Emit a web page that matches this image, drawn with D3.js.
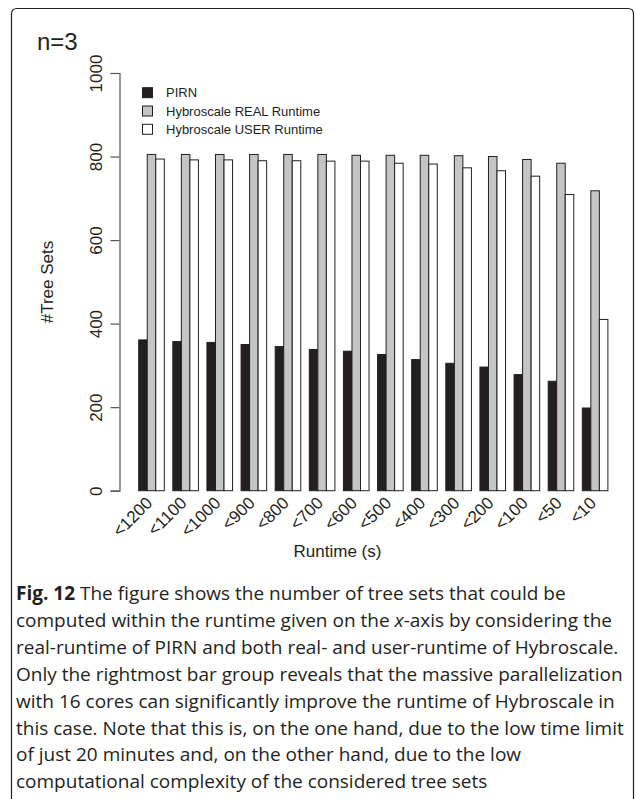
<!DOCTYPE html>
<html><head><meta charset="utf-8">
<script src="https://cdn.jsdelivr.net/npm/d3@7"></script>
<style>
html,body{margin:0;padding:0;background:#fff;}
svg{display:block;}
</style>
</head><body>
<svg id="c" width="635" height="799"></svg>
<script>
const categories = ["<1200","<1100","<1000","<900","<800","<700","<600","<500","<400","<300","<200","<100","<50","<10"];
const seriesNames = ["PIRN","Hybroscale REAL Runtime","Hybroscale USER Runtime"];
const pirn = [361,357,355,350,345,338,334,326,314,305,296,278,262,198];
const realRuntime = [805,805,805,805,805,805,803,803,803,802,800,793,784,718];
const userRuntime = [794,792,792,790,790,789,789,784,782,773,766,753,709,410];
const yTicks = [0,200,400,600,800,1000];
const captionLines = [
  "The figure shows the number of tree sets that could be",
  "computed within the runtime given on the x-axis by considering the",
  "real-runtime of PIRN and both real- and user-runtime of Hybroscale.",
  "Only the rightmost bar group reveals that the massive parallelization",
  "with 16 cores can significantly improve the runtime of Hybroscale in",
  "this case. Note that this is, on the one hand, due to the low time limit",
  "of just 20 minutes and, on the other hand, due to the low",
  "computational complexity of the considered tree sets"
];

const series = [pirn, realRuntime, userRuntime];
const colors = ["#231f20","#c4c5c7","#ffffff"];
const svg = d3.select("#c");
const font = "'Liberation Sans', Arial, Helvetica, sans-serif";

// frame
svg.append("path")
  .attr("d","M11.5,805 L11.5,14 Q11.5,8.5 17,8.5 L628,8.5 Q633.5,8.5 633.5,14 L633.5,805")
  .attr("fill","none").attr("stroke","#231f20").attr("stroke-width",1.2);

const y = d3.scaleLinear().domain([0,1000]).range([490.7,73]);
const x0 = d3.scaleBand().domain(categories).range([138.7,607.9]).paddingInner(0.25).paddingOuter(0);
const x1 = d3.scaleBand().domain(d3.range(3)).range([0,x0.bandwidth()]);

// bars
const g = svg.append("g");
categories.forEach((c,i)=>{
  series.forEach((s,j)=>{
    g.append("rect")
      .attr("x",x0(c)+x1(j)).attr("width",x1.bandwidth())
      .attr("y",y(s[i])).attr("height",y(0)-y(s[i]))
      .attr("fill",colors[j]).attr("stroke", "#231f20").attr("stroke-width",1);
  });
});

// y axis
const yAxis = d3.axisLeft(y).tickValues(yTicks).tickSize(9).tickPadding(0).tickFormat(d3.format("d"));
const ya = svg.append("g").attr("transform","translate(119.5,0)").call(yAxis);
ya.select(".domain").attr("stroke","#555").attr("stroke-width",1.2);
ya.selectAll(".tick line").attr("stroke","#555").attr("stroke-width",1.2);
ya.selectAll(".tick text").remove();
ya.selectAll(".tick").append("text")
  .attr("transform","translate(-23,0) rotate(-90)")
  .attr("text-anchor","middle").attr("dy","0.35em")
  .attr("fill","#231f20").style("font-family",font).style("font-size","17px")
  .text(d=>d);

// x labels
svg.append("g").selectAll("text").data(categories).join("text")
  .attr("transform",d=>`translate(${x0(d)+x0.bandwidth()/2+2},${504}) rotate(-45)`)
  .attr("text-anchor","end")
  .attr("fill","#231f20").style("font-family",font).style("font-size","17px")
  .text(d=>d);

// axis titles
svg.append("text").attr("x",337.5).attr("y",557).attr("text-anchor","middle")
  .attr("fill","#231f20").style("font-family",font).style("font-size","17px").text("Runtime (s)");
svg.append("text").attr("transform","translate(53,282) rotate(-90)").attr("text-anchor","middle")
  .attr("fill","#231f20").style("font-family",font).style("font-size","17px").text("#Tree Sets");

// n=3
svg.append("text").attr("x",37).attr("y",50)
  .attr("fill","#231f20").style("font-family",font).style("font-size","24px").text("n=3");

// legend
const lg = svg.append("g");
seriesNames.forEach((n,j)=>{
  const cy = 92.7 + j*18.3;
  lg.append("rect").attr("x",142.5).attr("y",cy-5).attr("width",10).attr("height",10)
    .attr("fill",colors[j]).attr("stroke","#231f20").attr("stroke-width",1);
  lg.append("text").attr("x",166).attr("y",cy).attr("dy","0.35em")
    .attr("fill","#231f20").style("font-family",font).style("font-size","13px").text(n);
});

// caption
const cfont = "'Open Sans','Noto Sans',sans-serif";
const cap = svg.append("g");
captionLines.forEach((line,i)=>{
  const t = cap.append("text").attr("x",16).attr("y",600 + i*26.9)
    .attr("fill","#231f20").style("font-family",cfont).style("font-size","19px");
  if(i===0){
    t.append("tspan").attr("font-weight","bold").text("Fig. 12");
    t.append("tspan").text(" " + line);
  } else if(line.includes("x-axis")){
    const parts = line.split("x-axis");
    t.append("tspan").text(parts[0]);
    t.append("tspan").attr("font-style","italic").text("x");
    t.append("tspan").text("-axis" + parts[1]);
  } else {
    t.text(line);
  }
});
</script>
</body></html>
